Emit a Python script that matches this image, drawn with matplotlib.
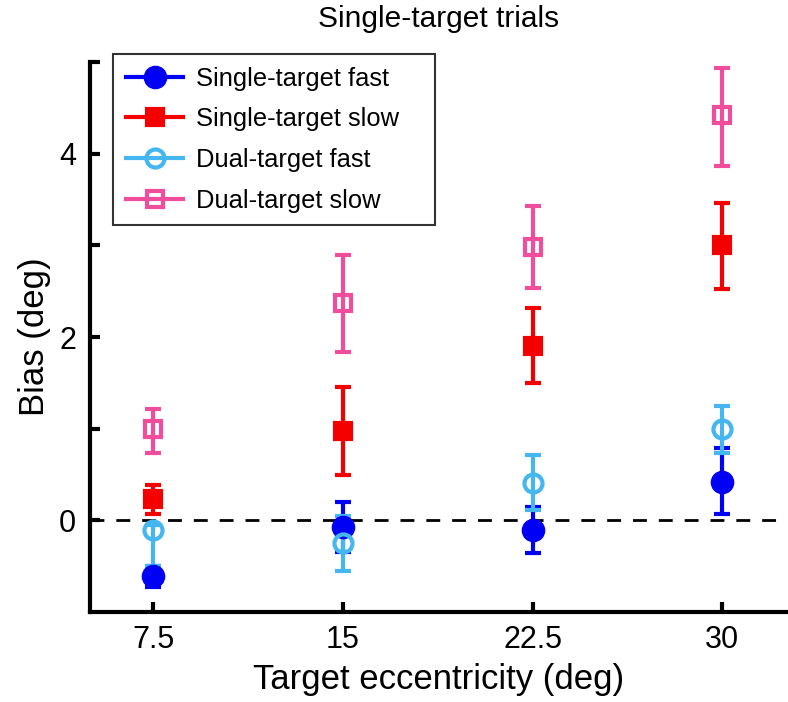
import matplotlib.pyplot as plt
from matplotlib.lines import Line2D
import numpy as np

plt.rcParams["font.family"] = ["Liberation Sans", "DejaVu Sans"]

eccentricity = [7.5, 15, 22.5, 30]
tick_labels = ["7.5", "15", "22.5", "30"]

single_fast = [-0.61, -0.07, -0.11, 0.42]
single_fast_lo = [-0.73, -0.34, -0.36, 0.07]
single_fast_hi = [-0.50, 0.20, 0.15, 0.79]

single_slow = [0.23, 0.97, 1.90, 3.00]
single_slow_lo = [0.07, 0.49, 1.50, 2.52]
single_slow_hi = [0.39, 1.46, 2.32, 3.46]

dual_fast = [-0.11, -0.25, 0.41, 1.00]
dual_fast_lo = [-0.50, -0.55, 0.11, 0.74]
dual_fast_hi = [-0.05, 0.05, 0.71, 1.25]

dual_slow = [1.00, 2.37, 2.98, 4.42]
dual_slow_lo = [0.73, 1.84, 2.53, 3.87]
dual_slow_hi = [1.22, 2.89, 3.43, 4.93]

series = [
    ("Single-target fast", single_fast, single_fast_lo, single_fast_hi,
     "#0000F5", "o", 14, True),
    ("Single-target slow", single_slow, single_slow_lo, single_slow_hi,
     "#F50000", "s", 11.5, True),
    ("Dual-target fast", dual_fast, dual_fast_lo, dual_fast_hi,
     "#45B6F0", "o", 13, False),
    ("Dual-target slow", dual_slow, dual_slow_lo, dual_slow_hi,
     "#F04E9C", "s", 12, False),
]

fig = plt.figure(figsize=(7.88, 7.02), dpi=100)
ax = fig.add_axes([90 / 788, 1 - 612 / 702, 698 / 788, 550 / 702])

# zero reference line
ax.axhline(0, color="black", lw=2, linestyle=(0, (5, 4.3)), zorder=1)

handles = []
for label, mid, lo, hi, color, marker, ms, filled in series:
    mid = np.array(mid)
    yerr = [mid - np.array(lo), np.array(hi) - mid]
    face = color if filled else "none"
    ax.errorbar(eccentricity, mid, yerr=yerr, fmt=marker, color=color,
                ms=ms, mfc=face, mec=color, mew=3, elinewidth=3,
                capsize=5.5, capthick=3, zorder=3)
    handles.append(Line2D([], [], color=color, lw=3, marker=marker, ms=ms,
                          mfc=face, mec=color, mew=3))

ax.set_xlim(5.0, 32.6)
ax.set_ylim(-1, 5)
ax.set_xticks(eccentricity)
ax.set_xticklabels(tick_labels)
ax.set_yticks([0, 2, 4])
ax.set_yticks([1, 3, 5], minor=True)

for side in ["top", "right"]:
    ax.spines[side].set_visible(False)
for side in ["left", "bottom"]:
    ax.spines[side].set_linewidth(3)

ax.tick_params(which="both", direction="in", length=7, width=3,
               labelsize=22)
ax.tick_params(axis="x", pad=9)
ax.tick_params(axis="y", pad=10)

ax.set_xlabel("Target eccentricity (deg)", fontsize=25, labelpad=6)
ax.set_ylabel("Bias (deg)", fontsize=25, labelpad=6)
ax.set_title("Single-target trials", fontsize=21.5, pad=25)

leg = ax.legend(handles=handles, labels=[s[0] for s in series],
                loc="upper left", mode="expand",
                bbox_to_anchor=(23 / 698, 0, 322 / 698, 1 + 8 / 550),
                fontsize=18.4, frameon=True, fancybox=False,
                edgecolor="black", handlelength=2.25, handletextpad=0.5,
                labelspacing=0.65, borderpad=0.5, borderaxespad=0)
leg.get_frame().set_linewidth(1.5)

fig.savefig("out.png", dpi=100)
